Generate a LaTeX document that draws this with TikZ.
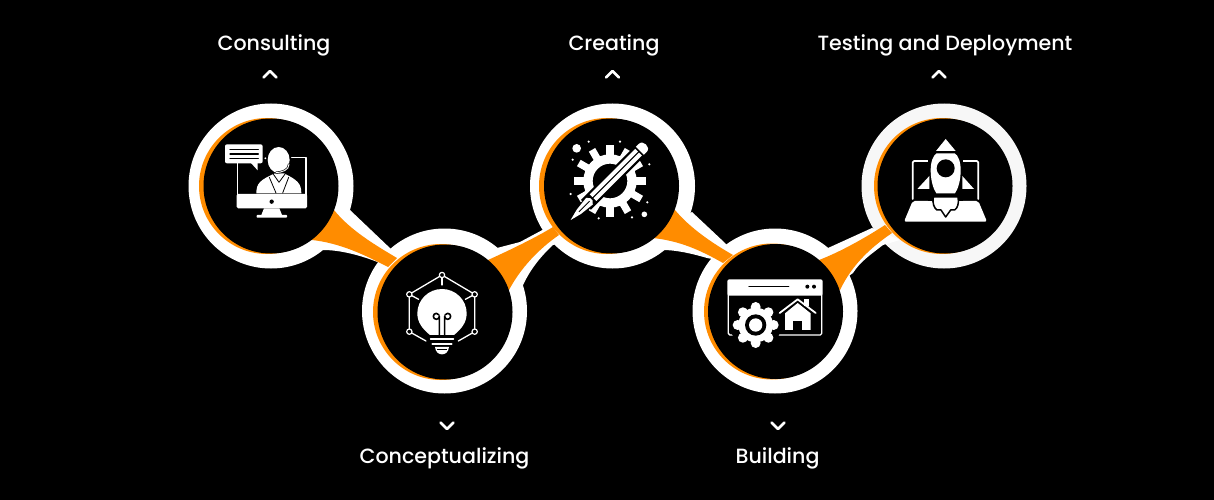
\documentclass[tikz,border=0pt]{standalone}
\usepackage{fontspec}
\setmainfont{Poppins Medium}
\definecolor{stalk}{HTML}{FF8C00}
\definecolor{paleRing}{HTML}{F7F7F7}

\begin{document}
\begin{tikzpicture}[x=1pt, y=-1pt, line cap=round, line join=round,
	ring/.style={circle, inner sep=0pt, minimum size=165pt, fill=white},
	crescent/.style={circle, inner sep=0pt, minimum size=136pt, fill=stalk},
	disc/.style={circle, inner sep=0pt, minimum size=135pt, fill=black},
	steplabel/.style={anchor=base, text=white, font=\fontsize{20.6}{25}\selectfont},
	chevron/.style={draw=white, line width=2.6pt},
	thinw/.style={draw=white, line width=1.3pt},
	thinb/.style={draw=black, line width=1.3pt},
	hub/.style={draw=white, fill=black, line width=1.2pt}]
	\def\up{(-6.5,3.5) -- (0,-3) -- (6.5,3.5)}
	\def\down{(-6.5,-3.5) -- (0,3) -- (6.5,-3.5)}

	\fill[black]	(0,0) rectangle (1214,500);
	\useasboundingbox	(0,0) rectangle (1214,500);

	% rings and stalks
	\node[ring]	(ringA) at (271,186) {};
	\node[ring]	(ringB) at (444.5,311) {};
	\node[ring]	(ringC) at (612.5,186) {};
	\node[ring]	(ringD) at (775,311) {};
	\node[ring, fill=paleRing]	(ringE) at (944,186) {};

	\fill[white]	(350,210) -- (392,250) -- (410,270) -- (380,263) .. controls (360,255) and (340,250) .. (323,250) -- (310,235) -- cycle;
	\fill[white]	(497,248) -- (520,242) -- (548,227) -- (570,240) -- (553,245) .. controls (540,257) and (528,272) .. (521,290) -- (500,300) -- cycle;
	\fill[white]	(692,212) -- (725,243) -- (745,265) -- (707,258) .. controls (690,253) and (675,250) .. (663,250) -- (650,235) -- cycle;
	\fill[white]	(828,248) -- (872,228) -- (900,240) -- (883,245) .. controls (870,255) and (860,262) .. (853,273) -- (830,290) -- cycle;

	\fill[stalk]	(334,210) .. controls (350,230) and (375,245) .. (397,258) -- (388,267) .. controls (365,255) and (340,243) .. (312,240) -- (300,220) -- cycle;
	\fill[stalk]	(488,260) .. controls (510,250) and (535,238) .. (553,227) -- (559,235) .. controls (540,248) and (520,268) .. (508,292) -- (480,290) -- cycle;
	\fill[stalk]	(675,210) .. controls (690,228) and (712,243) .. (733,255) -- (723,263) .. controls (700,250) and (680,241) .. (653,238) -- (640,220) -- cycle;
	\fill[stalk]	(819,260) .. controls (840,252) and (865,238) .. (885,225) -- (892,233) .. controls (870,248) and (852,265) .. (840,290) -- (810,290) -- cycle;

	\node[crescent]	(orangeA) at (267,186) {};
	\node[crescent]	(orangeB) at (441,312) {};
	\node[crescent]	(orangeC) at (607,186) {};
	\node[crescent]	(orangeD) at (772,311.5) {};
	\node[crescent]	(orangeE) at (942,186) {};

	\node[disc]	(discA) at (271,186) {};
	\node[disc]	(discB) at (445,312) {};
	\node[disc]	(discC) at (611.5,186) {};
	\node[disc]	(discD) at (775.5,311.5) {};
	\node[disc]	(discE) at (945,186) {};

	% labels
	\node[steplabel]	(consulting) at (274,50.5) {Consulting};
	\node[steplabel]	(conceptualizing) at (444.5,463) {Conceptualizing};
	\node[steplabel]	(creating) at (614,50.5) {Creating};
	\node[steplabel]	(building) at (777.5,463) {Building};
	\node[steplabel]	(testing) at (945,50.5) {Testing and Deployment};

	\draw[chevron, shift={(270,74)}]	\up;
	\draw[chevron, shift={(612.5,74)}]	\up;
	\draw[chevron, shift={(939,74)}]	\up;
	\draw[chevron, shift={(447,426)}]	\down;
	\draw[chevron, shift={(778,426)}]	\down;

	% monitor with speaker
	\begin{scope}[shift={(180,95)}, scale=1/3]
		\draw[thinw]	(172,205) -- (172,300);
		\draw[thinw]	(335,188) -- (378,188) -- (378,300);
		\fill[white, rounded corners=1.5pt]	(170,297) rectangle (381,340);
		\fill[black]	(275,320) circle (6.5);
		\fill[white]	(252,340) -- (298,340) -- (306,360) -- (244,360) -- cycle;
		\fill[white, rounded corners=0.7pt]	(230,360) rectangle (321,368);
		\fill[white, rounded corners=2pt]	(135,148) rectangle (248,205);
		\fill[white]	(212,203) -- (233,226) -- (233,203) -- cycle;
		\foreach \yy in {163,177,190}
			\draw[thinb]	(150,\yy) -- (235,\yy);
		\fill[white]	(229,295) .. controls (229,265) and (240,255) .. (285,235) -- (312,235) .. controls (352,255) and (364,265) .. (364,295) -- cycle;
		\draw[black, line width=0.8pt]	(279,236) -- (297,262) -- (316,236);
		\draw[black, line width=0.8pt]	(268,247) -- (288,294);
		\draw[black, line width=0.8pt]	(326,247) -- (308,294);
		\fill[white]	(296,195) circle [x radius=33, y radius=39];
		\draw[black, line width=2.2pt]	(327,208) .. controls (327,226) and (305,232) .. (288,233);
		\draw[white, line width=0.9pt]	(327,208) .. controls (327,226) and (305,232) .. (288,233);
		\fill[white]	(256,190) circle (3);
	\end{scope}

	% bulb in a net
	\begin{scope}[shift={(180,95)}, scale=1/3]
		\draw[thinw]	(688,710) -- (688,598) -- (786,540) -- (884,598) -- (884,710);
		\draw[thinw]	(688,710) -- (738,738);
		\draw[thinw]	(884,710) -- (835,738);
		\draw[thinw]	(786,540) -- (786,570);
		\draw[thinw]	(688,598) -- (716,613);
		\draw[thinw]	(884,598) -- (856,613);
		\fill[white]	(750,720) .. controls (725,700) and (712,680) .. (712,655) .. controls (712,615) and (745,582) .. (786,582) .. controls (827,582) and (860,615) .. (860,655) .. controls (860,680) and (847,700) .. (822,720) -- cycle;
		\draw[black, line width=1.6pt]	(778,725) -- (778,664) arc (0:330:9);
		\draw[black, line width=1.6pt]	(794,725) -- (794,664) arc (180:-150:9);
		\draw[white, line width=1.8pt]	(752,733) -- (820,733);
		\draw[white, line width=1.8pt]	(757,748) -- (815,748);
		\fill[white]	(765,756) -- (807,756) .. controls (805,772) and (796,778) .. (786,778) .. controls (776,778) and (767,772) .. (765,756) -- cycle;
		\fill[black]	(770,762) rectangle (802,765);
		\foreach \px/\py in {786/540, 688/598, 884/598, 688/710, 884/710}
			\filldraw[hub]	(\px,\py) circle (8);
	\end{scope}

	% gear and pencil
	\begin{scope}[shift={(520,95)}, scale=1/3]
		\draw[white, line width=9.3pt]	(270,258) circle (66);
		\foreach \a in {0,30,...,330}
			\fill[white, rotate around={\a:(270,258)}]	(259,150) rectangle (281,195);
		\begin{scope}[shift={(265,262)}, rotate=45]
			\fill[black]	(-95,-21) rectangle (130,21);
			\fill[white]	(-65,-14) rectangle (128,-2);
			\fill[white]	(-65,2) rectangle (128,14);
			\fill[white]	(134,-17) -- (146,-17) .. controls (165,-17) and (165,17) .. (146,17) -- (134,17) -- cycle;
			\fill[white]	(-80,-14) -- (-72,-5) -- (-72,5) -- (-80,14) -- (-125,9) -- (-160,0) -- (-125,-9) -- cycle;
			\fill[black]	(-125,-1.3) rectangle (-80,1.3);
		\end{scope}
		\fill[white]	(170,160) circle (13);
		\fill[white]	(373,358) circle (8.5);
		\foreach \px/\py in {206/140, 300/140, 158/194, 388/208, 152/297, 382/322, 236/370, 336/367}
			\fill[white]	(\px,\py) circle (3.6);
	\end{scope}

	% browser window
	\begin{scope}[shift={(520,95)}, scale=1/3]
		\fill[white, rounded corners=2pt]	(622,553) rectangle (908,602);
		\draw[thinw, rounded corners=1.5pt]	(625,598) -- (625,720) -- (905,720) -- (905,598);
		\draw[thinb]	(687,575) -- (806,575);
		\fill[black]	(862,575) circle (6);
		\fill[black]	(882,575) circle (6);
		\fill[black]	(707,690) circle (76);
		\fill[white]	(707,690) circle (52);
		\foreach \a in {0,45,...,315}
			\fill[white, rotate around={\a:(707,690)}]	(707,636) circle (15);
		\fill[black]	(707,690) circle (32);
		\fill[white]	(707,690) circle (20);
		% house
		\fill[black]	(770,660) -- (833,604) -- (895,660) -- (880,715) -- (785,715) -- cycle;
		\fill[white]	(795,655) -- (833,624) -- (872,655) -- (872,705) -- (795,705) -- cycle;
		\fill[black]	(820,678) rectangle (845,705);
		\draw[white, line width=1.8pt]	(779,654) -- (833,613) -- (887,654);
		\fill[white]	(852,612) rectangle (868,632);
	\end{scope}

	% laptop and rocket
	\begin{scope}[shift={(840,95)}, scale=1/3]
		\draw[white, line width=1.7pt, rounded corners=1.5pt]	(218,312) -- (218,198) -- (415,198) -- (415,312);
		\fill[white, rounded corners=2pt]	(218,318) -- (415,318) -- (441,380) -- (192,380) -- cycle;
		\fill[black]	(265,190) rectangle (369,318);
		\fill[white]	(272,225) .. controls (272,200) and (280,180) .. (290,175) -- (344,175) .. controls (354,180) and (362,200) .. (362,225) .. controls (362,255) and (355,280) .. (345,295) -- (289,295) .. controls (279,280) and (272,255) .. (272,225) -- cycle;
		\fill[black]	(317,220) circle (27);
		\fill[white]	(288,168) -- (347,168) -- (317,132) -- cycle;
		\fill[white]	(232,282) -- (268,282) -- (268,243) -- cycle;
		\fill[white]	(367,243) -- (402,282) -- (367,282) -- cycle;
		\filldraw[fill=white, draw=black, line width=1.5pt]	(280,306) -- (354,306) .. controls (358,325) and (352,340) .. (344,345) -- (332,345) -- (317,366) -- (303,345) -- (291,345) .. controls (283,340) and (276,325) .. (280,306) -- cycle;
	\end{scope}
\end{tikzpicture}
\end{document}
